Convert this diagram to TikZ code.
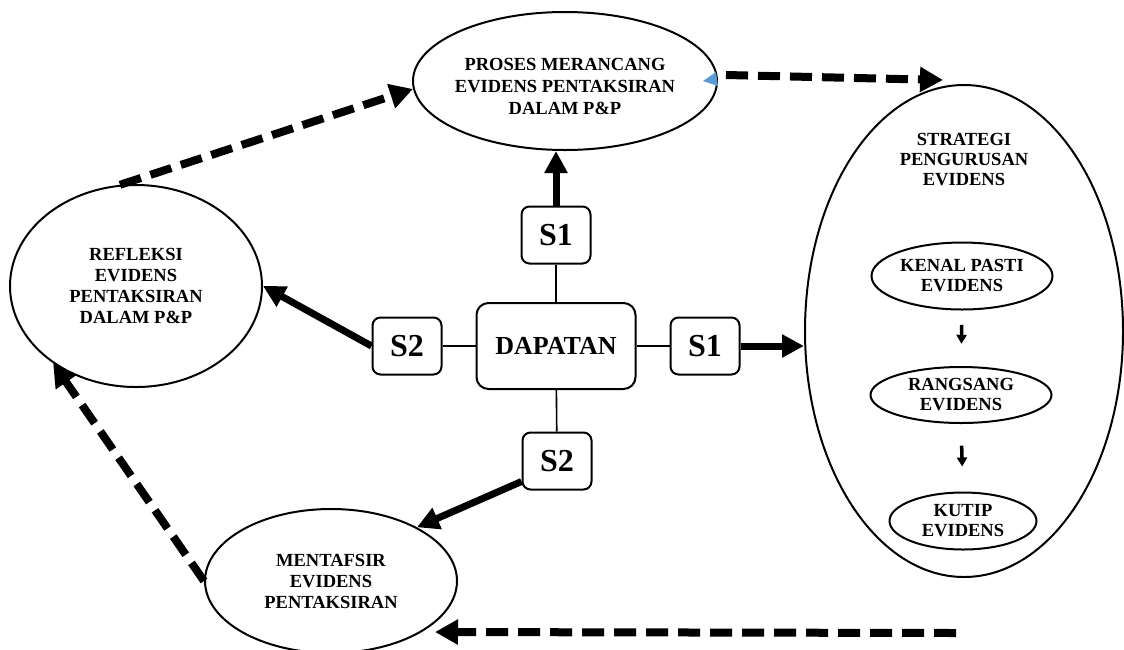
\documentclass[tikz,border=0pt]{standalone}
\usepackage{fontspec}
\setmainfont{Liberation Serif}
\usetikzlibrary{shapes.geometric,arrows.meta,calc}
\definecolor{tipblue}{RGB}{91,155,213}

\begin{document}
\begin{tikzpicture}[x=1pt,y=-1pt,
  oval/.style={ellipse,draw,line width=2pt,inner sep=0pt,align=center,
    font=\bfseries\fontsize{18.5}{21}\selectfont},
  ovaltext/.style={inner sep=0pt,align=center,
    font=\bfseries\fontsize{18.5}{22}\selectfont},
  sbox/.style={rectangle,rounded corners=8pt,draw,line width=2pt,
    minimum width=69pt,minimum height=57pt,inner sep=0pt,
    font=\bfseries\fontsize{32}{36}\selectfont},
  mainbox/.style={rectangle,rounded corners=12pt,draw,line width=2pt,
    minimum width=159pt,minimum height=86pt,inner sep=0pt,
    font=\bfseries\fontsize{26}{30}\selectfont},
  link/.style={line width=1.6pt},
  bigarrow/.style={line width=7pt,-{Triangle[length=22pt,width=22pt]}},
  dasharrow/.style={line width=8pt,dash pattern=on 22pt off 10pt,
    -{Triangle[length=23pt,width=24pt]}},
  smallarrow/.style={line width=3.5pt,-{Triangle[length=9pt,width=10pt]}}
]
\useasboundingbox (0,0) rectangle (1124,649);

% outer ellipses
\node[oval,minimum width=304pt,minimum height=138pt] (proses) at (565,81) {};
\node[ovaltext] (prosestext) at (565,86)
  {PROSES MERANCANG\\EVIDENS PENTAKSIRAN\\DALAM P\&P};

\node[oval,minimum width=252pt,minimum height=202pt] (refleksi) at (136,286)
  {REFLEKSI\\EVIDENS\\PENTAKSIRAN\\DALAM P\&P};

\node[oval,minimum width=252pt,minimum height=144pt] (mentafsir) at (331,581)
  {MENTAFSIR\\EVIDENS\\PENTAKSIRAN};

% strategy ellipse with its three inner steps
\node[oval,minimum width=318pt,minimum height=492pt] (strategi) at (964,331) {};
\node[ovaltext,font=\bfseries\fontsize{18.5}{20}\selectfont] (strategitext) at (964,160)
  {STRATEGI\\PENGURUSAN\\EVIDENS};
\node[oval,minimum width=181pt,minimum height=67pt,font=\bfseries\fontsize{18.5}{20}\selectfont]
  (kenal) at (962,276) {KENAL PASTI\\EVIDENS};
\node[oval,minimum width=181pt,minimum height=56pt,font=\bfseries\fontsize{18.5}{20}\selectfont]
  (rangsang) at (961,395) {RANGSANG\\EVIDENS};
\node[oval,minimum width=147pt,minimum height=57pt,font=\bfseries\fontsize{18.5}{20}\selectfont]
  (kutip) at (963,521) {KUTIP\\EVIDENS};

\draw[smallarrow] ($(kenal.south)!0.26!(rangsang.north)$) -- ($(kenal.south)!0.6!(rangsang.north)$);
\draw[smallarrow] ($(rangsang.south)!0.32!(kutip.north)$) -- ($(rangsang.south)!0.63!(kutip.north)$);

% central finding and its four links
\node[mainbox] (dapatan) at (556,346) {DAPATAN};
\node[sbox] (s1top) at (556,235) {S1};
\node[sbox] (s2left) at (407,346) {S2};
\node[sbox] (s1right) at (705,346) {S1};
\node[sbox] (s2bot) at (557,461) {S2};

\draw[link] (dapatan) -- (s1top);
\draw[link] (dapatan) -- (s2left);
\draw[link] (dapatan) -- (s1right);
\draw[link] (dapatan) -- (s2bot);

\draw[bigarrow] (s1top.north) -- (s1top.north |- proses.south);
\draw[bigarrow] (s2left.west) -- (refleksi.east);
\draw[bigarrow] (s1right.east) -- (s1right.east -| strategi.west);
\draw[bigarrow] ($(s2bot.south west)+(0,-9)$) -- (mentafsir.32);

% dashed cycle
\coordinate (topstart) at ($(proses.east)+(8,-6)$);
\coordinate (topend) at ($(strategi.north)+(-21,-4)$);
\coordinate (botstart) at ($(strategi.south)+(-8,55)$);
\coordinate (botend) at ($(mentafsir.east)+(-23,51)$);

\draw[dasharrow] (refleksi.99) -- (proses.183);
\draw[dasharrow] (topstart) -- (topend);
\draw[dasharrow] (botstart) -- (botend);
\draw[dasharrow] (mentafsir.west) -- (refleksi.223);

% small blue tip on the right of the top ellipse
\fill[tipblue] ($(proses.east)+(-15,0)$) -- ($(proses.east)+(-2,-9)$)
  -- ($(proses.east)+(0,5)$) -- cycle;
\end{tikzpicture}
\end{document}
